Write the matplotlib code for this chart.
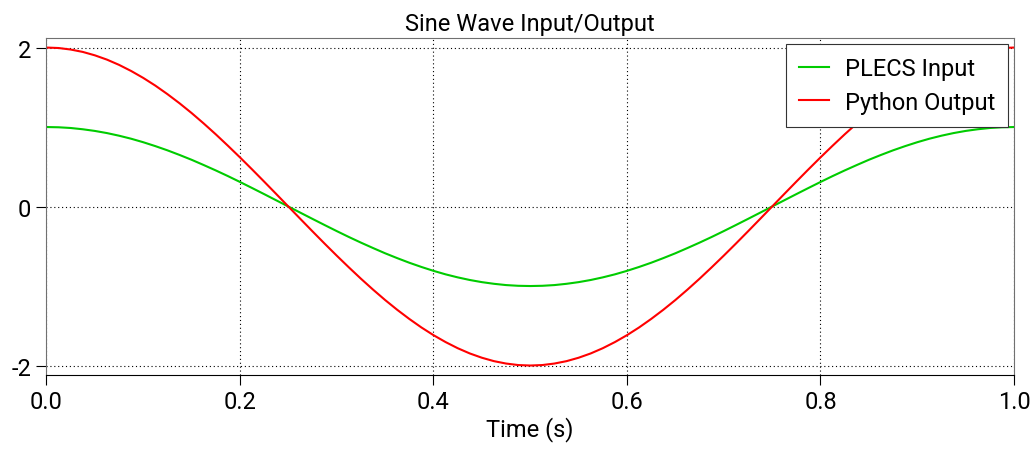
import matplotlib
matplotlib.use("Agg")
import matplotlib.pyplot as plt

plt.rcParams['font.family'] = ['Roboto', 'DejaVu Sans']
plt.rcParams['axes.unicode_minus'] = False

# sample times (s), 12.5 ms steps
time = [0.0, 0.0125, 0.025, 0.0375, 0.05, 0.0625, 0.075, 0.0875, 0.1, 0.1125,
        0.125, 0.1375, 0.15, 0.1625, 0.175, 0.1875, 0.2, 0.2125, 0.225, 0.2375,
        0.25, 0.2625, 0.275, 0.2875, 0.3, 0.3125, 0.325, 0.3375, 0.35, 0.3625,
        0.375, 0.3875, 0.4, 0.4125, 0.425, 0.4375, 0.45, 0.4625, 0.475, 0.4875,
        0.5, 0.5125, 0.525, 0.5375, 0.55, 0.5625, 0.575, 0.5875, 0.6, 0.6125,
        0.625, 0.6375, 0.65, 0.6625, 0.675, 0.6875, 0.7, 0.7125, 0.725, 0.7375,
        0.75, 0.7625, 0.775, 0.7875, 0.8, 0.8125, 0.825, 0.8375, 0.85, 0.8625,
        0.875, 0.8875, 0.9, 0.9125, 0.925, 0.9375, 0.95, 0.9625, 0.975, 0.9875,
        1.0]

plecs_input = [1.000, 0.997, 0.988, 0.972, 0.951, 0.924, 0.891, 0.853, 0.809, 0.760,
               0.707, 0.649, 0.588, 0.522, 0.454, 0.383, 0.309, 0.233, 0.156, 0.078,
               0.000, -0.078, -0.156, -0.233, -0.309, -0.383, -0.454, -0.522, -0.588, -0.649,
               -0.707, -0.760, -0.809, -0.853, -0.891, -0.924, -0.951, -0.972, -0.988, -0.997,
               -1.000, -0.997, -0.988, -0.972, -0.951, -0.924, -0.891, -0.853, -0.809, -0.760,
               -0.707, -0.649, -0.588, -0.522, -0.454, -0.383, -0.309, -0.233, -0.156, -0.078,
               0.000, 0.078, 0.156, 0.233, 0.309, 0.383, 0.454, 0.522, 0.588, 0.649,
               0.707, 0.760, 0.809, 0.853, 0.891, 0.924, 0.951, 0.972, 0.988, 0.997,
               1.000]

python_output = [2.000, 1.994, 1.975, 1.945, 1.902, 1.848, 1.782, 1.705, 1.618, 1.521,
                 1.414, 1.299, 1.176, 1.045, 0.908, 0.765, 0.618, 0.467, 0.313, 0.157,
                 0.000, -0.157, -0.313, -0.467, -0.618, -0.765, -0.908, -1.045, -1.176, -1.299,
                 -1.414, -1.521, -1.618, -1.705, -1.782, -1.848, -1.902, -1.945, -1.975, -1.994,
                 -2.000, -1.994, -1.975, -1.945, -1.902, -1.848, -1.782, -1.705, -1.618, -1.521,
                 -1.414, -1.299, -1.176, -1.045, -0.908, -0.765, -0.618, -0.467, -0.313, -0.157,
                 0.000, 0.157, 0.313, 0.467, 0.618, 0.765, 0.908, 1.045, 1.176, 1.299,
                 1.414, 1.521, 1.618, 1.705, 1.782, 1.848, 1.902, 1.945, 1.975, 1.994,
                 2.000]

xticks = [0.0, 0.2, 0.4, 0.6, 0.8, 1.0]
yticks = [-2, 0, 2]

fig = plt.figure(figsize=(10.31, 4.52), dpi=100)
ax = fig.add_axes([0.0451, 0.168, 0.9384, 0.7457])

ax.plot(time, plecs_input, color='#00cc00', lw=1.5, label='PLECS Input')
ax.plot(time, python_output, color='#ff0000', lw=1.5, label='Python Output')

ax.set_xlim(0, 1)
ax.set_ylim(-2.12, 2.12)
ax.set_xticks(xticks)
ax.set_xticklabels(['%.1f' % v for v in xticks])
ax.set_yticks(yticks)
ax.grid(True, color='black', linestyle=(0, (1, 2.5)), linewidth=0.8)

for s in ['left', 'top', 'right']:
    ax.spines[s].set_color('#707070')
ax.spines['bottom'].set_color('black')
ax.tick_params(axis='both', direction='out', length=7, width=0.8, labelsize=17, colors='black', pad=4)

ax.set_xlabel('Time (s)', fontsize=17, labelpad=2)
ax.set_title('Sine Wave Input/Output', fontsize=17, pad=6)

leg = ax.legend(loc='upper right', fontsize=17, fancybox=False, framealpha=1,
                edgecolor='#333333', borderaxespad=0.25, handlelength=1.3,
                handletextpad=0.65, borderpad=0.55, labelspacing=0.45)
leg.get_frame().set_linewidth(0.8)

fig.savefig('out.png', dpi=100)
